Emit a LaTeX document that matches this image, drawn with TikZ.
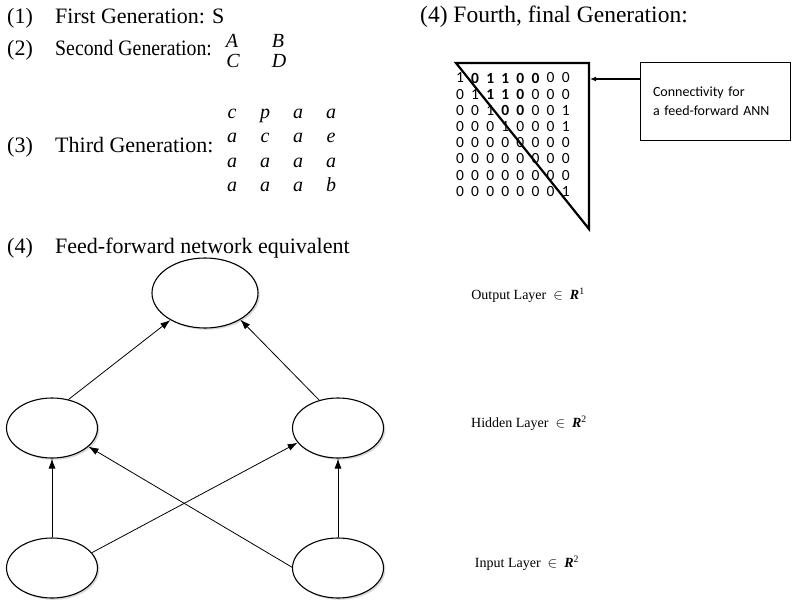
\documentclass[tikz,border=0pt]{standalone}
\usepackage{fontspec}
\setmainfont{Liberation Serif}
\newfontfamily\calfont{Carlito}
\usetikzlibrary{arrows.meta,shapes.geometric,shadows}
\begin{document}
\begin{tikzpicture}[x=1pt,y=-1pt,
  neuron/.style={ellipse,draw,line width=1.1pt,fill=white,minimum width=91pt,minimum height=60pt,inner sep=0pt,
    drop shadow={shadow xshift=1.8pt,shadow yshift=-1.8pt,fill=black!30}},
  conn/.style={-{Latex[length=10pt,width=7pt]},line width=0.8pt},
  big/.style={font=\fontsize{22}{26}\selectfont,inner sep=0pt,anchor=base west},
  mvar/.style={font=\fontsize{20}{24}\selectfont\itshape,inner sep=0pt,anchor=base},
  lab/.style={font=\fontsize{14}{17}\selectfont,inner sep=0pt},
  dg/.style={font=\calfont\fontsize{15.5}{17}\selectfont,inner sep=0pt}]
\useasboundingbox (0,0) rectangle (798,602);

% left column texts
\node[big] (n1) at (7,24) {(1)};
\node[big] (g1) at (55,24) {First Generation: S};
\node[big] (n2) at (7,56) {(2)};
\node[big] (g2) at (55,56) {\scalebox{0.9}[1]{Second Generation:}};
\node[mvar] (mA) at (232,48) {A};
\node[mvar] (mB) at (278,48) {B};
\node[mvar] (mC) at (233,68) {C};
\node[mvar] (mD) at (279,68) {D};
\node[big] (n3) at (7,152) {(3)};
\node[big] (g3) at (55,152) {Third Generation:};
\foreach \row [count=\i] in {{c,p,a,a},{a,c,a,e},{a,a,a,a},{a,a,a,b}}{
  \foreach \v [count=\j] in \row {
    \node[mvar] (t\i-\j) at ({232+33*(\j-1)},{118+24.6*(\i-1)}) {\v};
  }
}
\node[big] (n4) at (7,253) {(4)};
\node[big] (g4) at (55,253) {Feed-forward network equivalent};

% network
\node[neuron,minimum width=106pt,minimum height=70pt] (top) at (205,293) {};
\node[neuron] (hl) at (52,428) {};
\node[neuron] (hr) at (338,428) {};
\node[neuron] (bl) at (52,568) {};
\node[neuron] (br) at (338,568) {};
\draw[conn] (hl.60) -- (top.218);
\draw[conn] (hr.124) -- (top.323);
\draw[conn] (bl.north) -- (hl.south);
\draw[conn] (br.north) -- (hr.south);
\draw[conn] (bl.21) -- (hr.200);
\draw[conn] (br.179) -- (hl.333);

% layer labels
\node[lab] (lout) at (528,295) {Output Layer \ $\in$ \ \textbf{\textit{R}}\textsuperscript{1}};
\node[lab] (lhid) at (529,423) {Hidden Layer \ $\in$ \ \textbf{\textit{R}}\textsuperscript{2}};
\node[lab] (linp) at (527,563) {Input Layer \ $\in$ \ \textbf{\textit{R}}\textsuperscript{2}};

% right top
\node[big,font=\fontsize{23.5}{27}\selectfont] (n5) at (420,23) {(4) Fourth, final Generation:};
\foreach \row [count=\i] in {
  {1/0,0/1,1/1,1/1,0/1,0/1,0/0,0/0},
  {0/0,1/0,1/1,1/1,0/1,0/0,0/0,0/0},
  {0/0,0/0,1/0,0/1,0/1,0/0,0/0,1/0},
  {0/0,0/0,0/0,1/0,0/0,0/0,0/0,1/0},
  {0/0,0/0,0/0,0/0,0/0,0/0,0/0,0/0},
  {0/0,0/0,0/0,0/0,0/0,0/0,0/0,0/0},
  {0/0,0/0,0/0,0/0,0/0,0/0,0/0,0/0},
  {0/0,0/0,0/0,0/0,0/0,0/0,0/0,1/0}}{
  \foreach \dv/\bw [count=\j] in \row {
    \node[dg] (d\i-\j) at ({460+15.1*(\j-1)},{78+16.2*(\i-1)}) {\ifnum\bw=1 \bfseries\fi\dv};
  }
}
\coordinate (c1) at (456,63);
\coordinate (c2) at (589,63);
\coordinate (c3) at (589,229);
\draw[line width=2.2pt,line join=miter] (c1) -- (c2) -- (c3) -- cycle;

\node[draw,line width=0.8pt,minimum width=150pt,minimum height=78pt,inner xsep=13pt,inner ysep=0pt,
  text width=124pt,align=left,font=\calfont\fontsize{14}{19}\selectfont] (box) at (715,101)
  {Connectivity for\\a feed-forward ANN};
\coordinate (arrtip) at (590,79);
\draw[-{Latex[length=6pt,width=5pt]},line width=1.4pt] (box.west |- arrtip) -- (arrtip);
\end{tikzpicture}
\end{document}
